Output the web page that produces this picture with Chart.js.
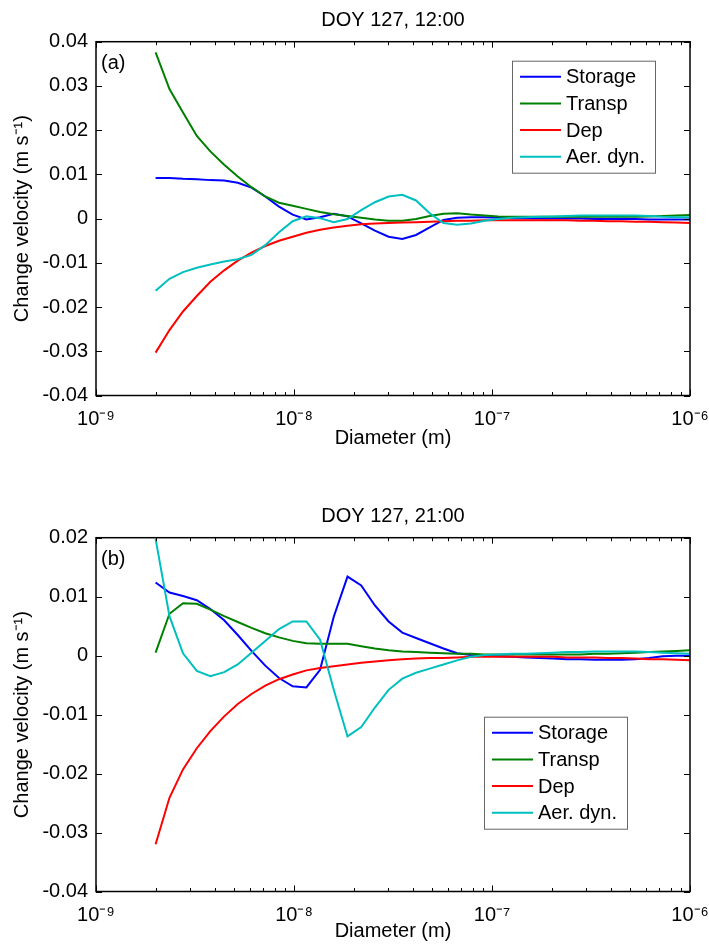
<!DOCTYPE html>
<html>
<head>
<meta charset="utf-8">
<script src="https://cdn.jsdelivr.net/npm/chart.js@4/dist/chart.umd.min.js"></script>
<style>
  body { margin: 0; background: #fff; width: 709px; height: 949px; overflow: hidden; }
  canvas { display: block; }
</style>
</head>
<body>
<canvas id="panelA" width="709" height="496"></canvas>
<canvas id="panelB" width="709" height="453"></canvas>
<script>
// particle diameters (m), log spaced bins
const diameter = [2.00e-9, 2.35e-9, 2.75e-9, 3.23e-9, 3.78e-9, 4.44e-9, 5.20e-9, 6.10e-9, 7.16e-9, 8.40e-9,
  9.85e-9, 1.155e-8, 1.354e-8, 1.588e-8, 1.863e-8, 2.185e-8, 2.562e-8, 3.005e-8, 3.524e-8, 4.133e-8,
  4.847e-8, 5.685e-8, 6.667e-8, 7.819e-8, 9.171e-8, 1.076e-7, 1.261e-7, 1.479e-7, 1.735e-7, 2.035e-7,
  2.386e-7, 2.799e-7, 3.282e-7, 3.849e-7, 4.515e-7, 5.295e-7, 6.210e-7, 7.283e-7, 8.541e-7, 1.000e-6];

const seriesNames = ['Storage', 'Transp', 'Dep', 'Aer. dyn.'];
const seriesColors = ['#0000ff', '#008000', '#ff0000', '#00bfbf'];

// (a) DOY 127, 12:00
const storageA = [0.0092, 0.0092, 0.0090, 0.0089, 0.0087, 0.0086, 0.0081, 0.0070, 0.0050, 0.0027,
  0.0009, -0.0002, 0.0003, 0.0011, 0.0005, -0.0011, -0.0027, -0.0041, -0.0046, -0.0037,
  -0.0020, -0.0003, 0.0002, 0.0003, 0.0003, 0.0002, 0.0001, 0.0001, 0.0000, 0.0000,
  0.0000, 0.0000, -0.0001, -0.0001, -0.0001, -0.0001, -0.0002, -0.0002, -0.0002, -0.0002];
const transpA = [0.0376, 0.0293, 0.0240, 0.0187, 0.0152, 0.0122, 0.0095, 0.0071, 0.0050, 0.0036,
  0.0029, 0.0022, 0.0015, 0.0010, 0.0006, 0.0002, -0.0002, -0.0005, -0.0005, -0.0001,
  0.0006, 0.0011, 0.0012, 0.0009, 0.0007, 0.0005, 0.0004, 0.0004, 0.0004, 0.0004,
  0.0004, 0.0004, 0.0004, 0.0004, 0.0004, 0.0004, 0.0005, 0.0006, 0.0007, 0.0008];
const depA = [-0.0303, -0.0252, -0.0210, -0.0175, -0.0143, -0.0117, -0.0095, -0.0077, -0.0062, -0.0050,
  -0.0041, -0.0032, -0.0025, -0.0020, -0.0016, -0.0013, -0.0011, -0.0010, -0.0009, -0.0008,
  -0.0007, -0.0006, -0.0005, -0.0005, -0.0004, -0.0004, -0.0004, -0.0004, -0.0004, -0.0004,
  -0.0004, -0.0005, -0.0005, -0.0006, -0.0006, -0.0007, -0.0007, -0.0008, -0.0009, -0.0010];
const aerDynA = [-0.0163, -0.0136, -0.0121, -0.0111, -0.0104, -0.0097, -0.0092, -0.0082, -0.0060, -0.0031,
  -0.0006, 0.0005, 0.0001, -0.0008, -0.0001, 0.0019, 0.0037, 0.0050, 0.0054, 0.0041,
  0.0012, -0.0010, -0.0014, -0.0011, -0.0005, -0.0001, 0.0002, 0.0003, 0.0004, 0.0005,
  0.0006, 0.0007, 0.0007, 0.0007, 0.0007, 0.0007, 0.0006, 0.0004, 0.0003, 0.0003];

// (b) DOY 127, 21:00
const storageB = [0.0124, 0.0107, 0.0101, 0.0094, 0.0079, 0.0060, 0.0035, 0.0008, -0.0017, -0.0038,
  -0.0052, -0.0054, -0.0024, 0.0066, 0.0134, 0.0119, 0.0085, 0.0058, 0.0039, 0.0030,
  0.0021, 0.0012, 0.0004, 0.0001, 0.0000, -0.0001, -0.0002, -0.0003, -0.0004, -0.0005,
  -0.0006, -0.0006, -0.0007, -0.0007, -0.0007, -0.0006, -0.0004, -0.0001, 0.0000, 0.0000];
const transpB = [0.0005, 0.0071, 0.0089, 0.0088, 0.0078, 0.0067, 0.0057, 0.0047, 0.0038, 0.0031,
  0.0025, 0.0021, 0.0020, 0.0020, 0.0020, 0.0016, 0.0012, 0.0009, 0.0007, 0.0006,
  0.0005, 0.0004, 0.0003, 0.0003, 0.0002, 0.0002, 0.0002, 0.0002, 0.0002, 0.0002,
  0.0002, 0.0002, 0.0003, 0.0003, 0.0004, 0.0005, 0.0006, 0.0007, 0.0008, 0.0009];
const depB = [-0.0320, -0.0241, -0.0193, -0.0157, -0.0128, -0.0103, -0.0082, -0.0065, -0.0051, -0.0040,
  -0.0032, -0.0025, -0.0021, -0.0018, -0.0015, -0.0012, -0.0010, -0.0008, -0.0006, -0.0005,
  -0.0004, -0.0004, -0.0003, -0.0002, -0.0002, -0.0002, -0.0002, -0.0002, -0.0002, -0.0002,
  -0.0003, -0.0003, -0.0003, -0.0004, -0.0004, -0.0005, -0.0006, -0.0006, -0.0007, -0.0008];
const aerDynB = [0.0198, 0.0067, 0.0004, -0.0026, -0.0035, -0.0028, -0.0015, 0.0005, 0.0025, 0.0045,
  0.0058, 0.0058, 0.0027, -0.0058, -0.0137, -0.0121, -0.0088, -0.0058, -0.0039, -0.0029,
  -0.0022, -0.0015, -0.0008, -0.0002, 0.0001, 0.0002, 0.0003, 0.0003, 0.0004, 0.0005,
  0.0006, 0.0006, 0.0007, 0.0007, 0.0007, 0.0007, 0.0006, 0.0005, 0.0004, 0.0003];

// axis ticks
const xMajor = [1e-9, 1e-8, 1e-7, 1e-6];
const xTickLabels = ['10⁻⁹', '10⁻⁸', '10⁻⁷', '10⁻⁶'];

const FONT = '"Liberation Sans", Arial, Helvetica, sans-serif';
const FS = 20;
Chart.defaults.font.family = FONT;
Chart.defaults.color = '#000';

function isMajor(v) {
  return xMajor.findIndex(m => Math.abs(v / m - 1) < 1e-6);
}

// box, inner ticks, legend box and panel letter (MATLAB style)
const matlabFrame = {
  id: 'matlabFrame',
  afterDatasetsDraw(chart, args, opts) {
    const { ctx, chartArea: a, scales: { x, y } } = chart;
    ctx.save();
    ctx.strokeStyle = '#000';
    ctx.lineWidth = 1;
    ctx.beginPath();
    x.ticks.forEach(t => {
      const px = Math.round(x.getPixelForValue(t.value)) + 0.5;
      const len = isMajor(t.value) >= 0 ? 6 : 3.5;
      ctx.moveTo(px, a.bottom); ctx.lineTo(px, a.bottom - len);
      ctx.moveTo(px, a.top); ctx.lineTo(px, a.top + len);
    });
    y.ticks.forEach(t => {
      const py = Math.round(y.getPixelForValue(t.value)) + 0.5;
      ctx.moveTo(a.left, py); ctx.lineTo(a.left + 6, py);
      ctx.moveTo(a.right, py); ctx.lineTo(a.right - 6, py);
    });
    ctx.stroke();
    ctx.lineWidth = 1.5;
    ctx.strokeRect(a.left, a.top, a.right - a.left, a.bottom - a.top);

    ctx.font = FS + 'px ' + FONT;
    ctx.fillStyle = '#000';
    ctx.textBaseline = 'middle';
    ctx.textAlign = 'left';
    ctx.fillText(opts.letter, a.left + 5, a.top + 22);

    // legend
    const bw = 143, bh = 112;
    const bx = a.right - opts.right - bw, by = a.top + opts.top;
    ctx.fillStyle = '#fff';
    ctx.fillRect(bx, by, bw, bh);
    ctx.strokeStyle = '#666';
    ctx.lineWidth = 1;
    ctx.strokeRect(bx + 0.5, by + 0.5, bw, bh);
    chart.data.datasets.forEach((ds, i) => {
      const ry = by + 16 + i * 26.7;
      ctx.strokeStyle = ds.borderColor;
      ctx.lineWidth = 2;
      ctx.beginPath();
      ctx.moveTo(bx + 8, ry); ctx.lineTo(bx + 49, ry);
      ctx.stroke();
      ctx.fillStyle = '#000';
      ctx.fillText(ds.label, bx + 54, ry + 1);
    });
    ctx.restore();
  }
};

function makePanel(id, title, series, yMin, yMax, letter, legendPos, xAxis) {
  const datasets = series.map((vals, i) => ({
    label: seriesNames[i],
    data: diameter.map((d, k) => ({ x: d, y: vals[k] })),
    borderColor: seriesColors[i],
    borderWidth: 2,
    pointRadius: 0,
    fill: false,
    tension: 0,
    order: series.length - i
  }));
  return new Chart(document.getElementById(id), {
    type: 'line',
    data: { datasets },
    plugins: [matlabFrame],
    options: {
      responsive: false,
      animation: false,
      devicePixelRatio: 1,
      layout: { padding: { left: 0, right: 19, top: 0, bottom: 0 } },
      plugins: {
        legend: { display: false },
        tooltip: { enabled: false },
        title: {
          display: true, text: title, color: '#000', fullSize: false,
          font: { size: FS, weight: 'normal' },
          padding: { top: 8, bottom: 9.7 }
        },
        matlabFrame: { letter, right: legendPos.right, top: legendPos.top }
      },
      scales: {
        x: {
          type: 'logarithmic', min: 1e-9, max: 1e-6,
          grid: { display: false, drawTicks: false }, border: { display: false },
          afterBuildTicks: s => {
            const t = [];
            for (let d = 0; d < xMajor.length; d++) {
              t.push({ value: xMajor[d] });
              if (d < xMajor.length - 1) for (let k = 2; k <= 9; k++) t.push({ value: xMajor[d] * k });
            }
            s.ticks = t;
          },
          afterFit: s => { s.height = xAxis.h; s.paddingLeft = 0; s.paddingRight = 0; },
          ticks: {
            autoSkip: false, maxRotation: 0, padding: 12,
            font: { size: FS },
            callback: v => { const i = isMajor(v); return i >= 0 ? xTickLabels[i] : ''; }
          },
          title: { display: true, text: 'Diameter (m)', font: { size: FS }, padding: { top: 0, bottom: xAxis.pad } }
        },
        y: {
          min: yMin, max: yMax,
          grid: { display: false, drawTicks: false }, border: { display: false },
          afterFit: s => { s.width = 96; },
          ticks: {
            stepSize: 0.01, padding: 8, font: { size: FS },
            callback: v => Math.abs(v) < 1e-9 ? '0' : v.toFixed(2)
          },
          title: { display: true, text: 'Change velocity (m s⁻¹)', font: { size: FS }, padding: { top: 10, bottom: 0 } }
        }
      }
    }
  });
}

makePanel('panelA', 'DOY 127, 12:00', [storageA, transpA, depA, aerDynA], -0.04, 0.04, '(a)',
  { right: 35, top: 19 }, { h: 100.5, pad: 45.5 });
makePanel('panelB', 'DOY 127, 21:00', [storageB, transpB, depB, aerDynB], -0.04, 0.02, '(b)',
  { right: 63, top: 179 }, { h: 57.5, pad: 5.5 });
</script>
</body>
</html>
